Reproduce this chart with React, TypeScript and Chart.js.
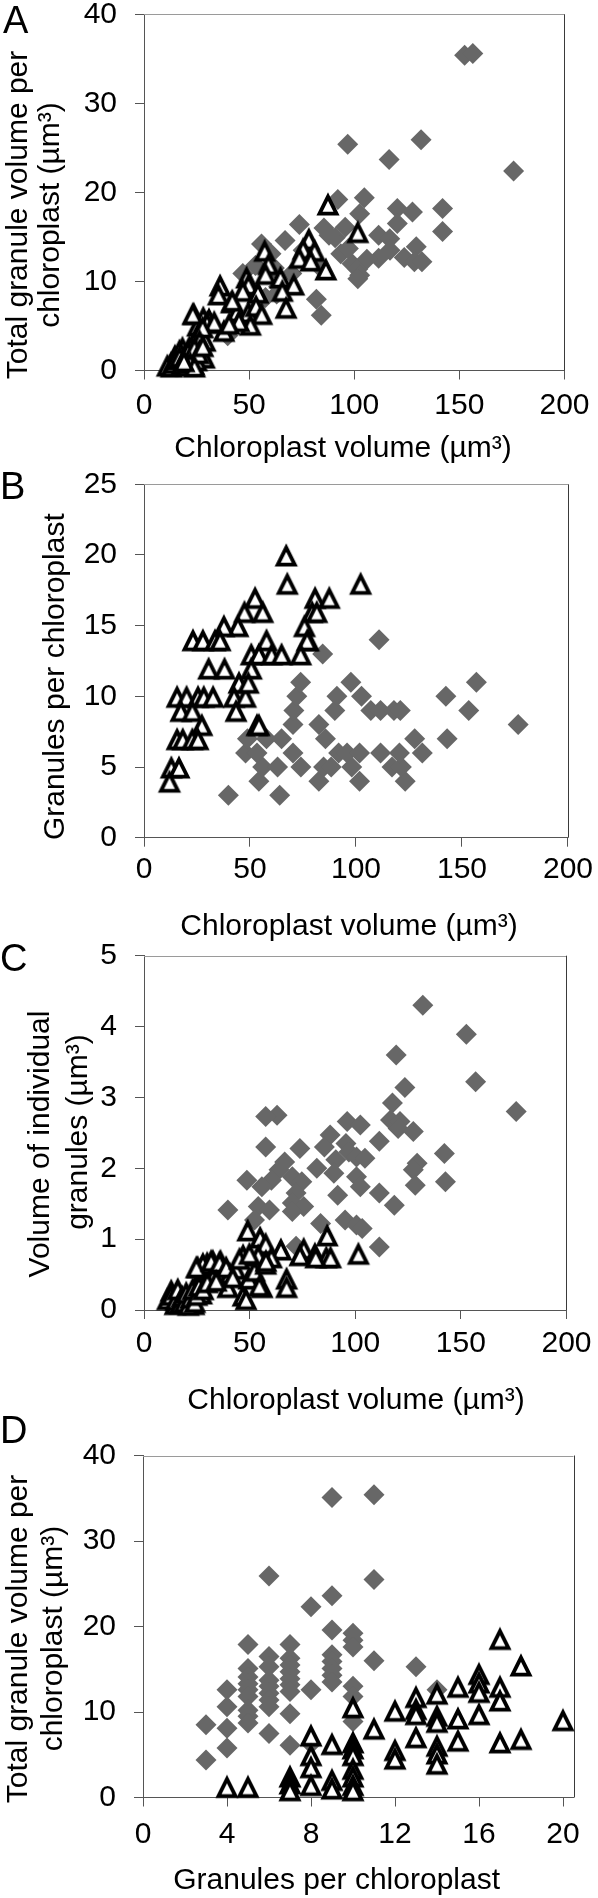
import React, { useEffect, useRef } from "react";
import { Chart, registerables } from "chart.js";

Chart.register(...registerables);

const FONT = '"Liberation Sans", Arial, Helvetica, sans-serif';

// ---------- tick labels ----------
const chloroplastVolumeTicks = [0, 50, 100, 150, 200];
const totalVolumeTicks = [0, 10, 20, 30, 40];
const granuleCountTicks = [0, 5, 10, 15, 20, 25];
const granuleVolumeTicks = [0, 1, 2, 3, 4, 5];
const granuleCountXTicks = [0, 4, 8, 12, 16, 20];

// ---------- Panel A: chloroplast volume vs total granule volume ----------
const aDiamonds: number[][] = [
  [152.5, 35.4], [156.4, 35.6], [175.8, 22.4], [96.9, 25.4], [131.8, 25.9], [116.6, 23.7],
  [104.8, 19.4], [92.2, 19.2], [102.6, 17.6], [120.5, 18.2], [127.7, 17.8], [142, 18.2],
  [142, 15.6], [120.5, 16.5], [85.6, 16.0], [95.7, 16.1], [73.9, 16.4], [67.1, 14.6],
  [90.9, 14.9], [111.6, 15.2], [116.9, 14.8], [129.5, 13.9], [111.6, 12.6], [123.8, 12.7],
  [128.6, 12.2], [132.2, 12.2], [99, 12.0], [101.7, 11.4], [102.6, 10.7], [101.7, 10.3],
  [93.6, 13.1], [97.2, 13.7], [82.9, 11.8], [82, 8.0], [84.3, 6.2], [60.4, 13.1],
  [55.9, 14.2], [70.3, 10.9], [64, 9.4], [63.1, 8.6], [57.8, 8.2], [50.6, 9.0],
  [47, 10.9], [39.8, 3.9], [75.7, 13.5], [78, 12.6], [88, 15.2], [106, 12.5],
  [117, 13.5], [62, 11.5], [53, 11.8],
];
const aTriangles: number[][] = [
  [87.5, 18.7], [101.7, 15.6], [78.4, 14.8], [75.7, 13.7], [81.1, 13.5], [73.9, 12.7],
  [79.3, 12.4], [86.5, 11.4], [57.4, 13.5], [59.2, 12], [57.8, 10.9], [64.9, 10.5],
  [71.2, 9.7], [65.8, 9], [67.6, 7.1], [48.8, 10.5], [49.7, 9.7], [47, 9],
  [54.2, 8.8], [36.2, 9.6], [35.4, 8.6], [41.6, 7.7], [44.3, 6.7], [49.7, 6.6],
  [53.3, 7.3], [56, 6.4], [50.6, 5.2], [45.2, 5.6], [38, 4.5], [23.7, 6.4],
  [28.2, 6], [30.9, 5.8], [30, 5.4], [25.5, 5.1], [25.5, 4.1], [29.1, 3.4],
  [22.8, 2.6], [27.3, 1.9], [18.3, 2.6], [14.7, 1.7], [12.9, 0.9], [11.1, 0.6],
  [16.5, 0.75], [21, 0.9], [23.7, 0.75], [15.6, 1.1], [19.2, 1.5],
  [23.2, 6.4], [33.4, 5.5], [40.5, 5.3], [42, 7.9], [27.9, 4.9], [26.4, 3.4],
  [26.4, 2.3], [21.6, 2.7], [28.7, 1.5], [16.9, 2.3], [13, 0.5], [14, 0.9],
  [15, 1.3], [17, 1.6], [18, 0.8], [20, 1.8], [21, 2.2], [22, 1.4], [24, 2.6],
  [25, 1.2], [26, 2.0], [28, 2.8], [20, 0.6], [22, 0.9], [24, 0.5], [19, 1.1],
];

// ---------- Panel B: chloroplast volume vs granules per chloroplast ----------
const bDiamonds: number[][] = [
  [39.8, 3], [64, 3], [54.2, 4], [82.5, 4], [101.7, 4], [123.2, 4], [56, 5], [63, 5],
  [74, 5], [84.7, 5], [88.3, 5], [98, 5], [117, 5], [121.4, 5], [47.9, 6], [53.3, 6],
  [70.3, 6], [91.8, 6], [95.8, 6], [101.7, 6], [111.6, 6], [120.5, 6], [131.3, 6],
  [48.8, 7], [57.8, 7], [64.9, 7], [85.6, 7], [127.7, 7], [143, 7], [70.3, 8],
  [82.5, 8], [176.5, 8], [70.7, 9], [90, 9], [107, 9], [111.6, 9], [117.9, 9],
  [120.9, 9], [153.2, 9], [72.1, 10], [91, 10], [102.6, 10], [142.4, 10], [73.9, 11],
  [97.6, 11], [156.8, 11], [84.3, 13], [110.9, 14],
];
const bTriangles: number[][] = [
  [67.1, 20], [67.6, 18], [102.2, 18], [52.4, 17], [80.7, 17], [87.4, 17], [79.3, 16],
  [81.5, 16], [56, 16], [47.4, 16], [44.3, 15], [37.7, 15], [75.7, 15], [77.5, 14],
  [57.8, 14], [23.1, 14], [27.8, 14], [33.5, 14], [35.9, 14], [77, 14], [50.6, 13],
  [54.2, 13], [60.2, 13], [64.9, 13], [73.9, 13], [30.5, 12], [38, 12], [50.6, 12],
  [44.8, 11], [15.6, 10], [20.1, 10], [25.5, 10], [28.2, 10], [32.6, 10], [42.5, 10],
  [47.9, 10], [49.2, 11], [43.4, 9], [17.4, 9], [22.8, 9], [27.3, 8], [53.3, 8],
  [54.2, 8], [15.6, 7], [18.3, 7], [22.8, 7], [25.5, 7], [12.9, 5], [16.5, 5], [12, 4],
];

// ---------- Panel C: chloroplast volume vs volume of individual granules ----------
const cDiamonds: number[][] = [
  [132, 4.3], [152.6, 3.89], [157, 3.22], [176.2, 2.8], [119.4, 3.6], [123.5, 3.14],
  [117.6, 2.92], [116.7, 2.68], [121.2, 2.66], [120.3, 2.56], [127.5, 2.52], [111.4, 2.38],
  [142.2, 2.21], [129.3, 2.07], [127.5, 1.98], [128.4, 1.76], [142.7, 1.81], [118.5, 1.48],
  [111.4, 1.65], [111.4, 0.89], [63, 2.75], [57.6, 2.73], [57.6, 2.3], [96.2, 2.66],
  [102.4, 2.61], [88.1, 2.47], [85.4, 2.3], [95.6, 2.35], [97, 2.23], [100.6, 2.16],
  [104.6, 2.14], [73.8, 2.28], [90.8, 2.12], [66.6, 2.09], [81.8, 2.0], [89.9, 1.93],
  [100.6, 1.88], [102.4, 1.74], [70.2, 1.88], [63.9, 1.98], [60.3, 1.83], [48.7, 1.83],
  [55.8, 1.74], [74.7, 1.81], [72, 1.65], [91.7, 1.62], [70.2, 1.51], [75.6, 1.46],
  [54.1, 1.46], [59.4, 1.41], [39.7, 1.41], [70.2, 1.39], [95.2, 1.27], [100.6, 1.2],
  [103.3, 1.15], [83.6, 1.22], [52.3, 1.27], [72, 0.9],
];
const cTriangles: number[][] = [
  [49.1, 1.13], [86.7, 1.06], [55, 1.03], [57.6, 0.94], [64.8, 0.86], [75.6, 0.87],
  [80.9, 0.8], [101.5, 0.8], [86.3, 0.75], [73.8, 0.78], [60.3, 0.75], [54.1, 0.78],
  [46.9, 0.78], [32.6, 0.7], [36.2, 0.7], [29.9, 0.67], [25.4, 0.61], [43.3, 0.59],
  [67.5, 0.45], [67.5, 0.33], [55.9, 0.33], [46.9, 0.21], [39.7, 0.33], [32.6, 0.47],
  [29, 0.42], [24.5, 0.35], [12.9, 0.28], [16.5, 0.19], [20.1, 0.14], [23.6, 0.09],
  [14.7, 0.09], [11.1, 0.16], [27.2, 0.24], [38, 0.56], [40.6, 0.52], [49.6, 0.45],
  [52.3, 0.56], [57.6, 0.66],
  [13, 0.22], [15, 0.15], [16, 0.3], [17, 0.1], [18, 0.2], [19, 0.12], [20, 0.25],
  [21, 0.08], [22, 0.18], [23, 0.3], [24, 0.12], [25, 0.22], [26, 0.35], [28, 0.3],
  [30, 0.4], [27.9, 0.66], [24.8, 0.61], [31.8, 0.7], [35.8, 0.68], [38.9, 0.61],
  [45.2, 0.73], [49.9, 0.8], [57.7, 0.7], [42, 0.47], [34.2, 0.42], [48.3, 0.16],
  [54.6, 0.35], [88.3, 0.75], [81.3, 0.75],
];

// ---------- Panel D: granules per chloroplast vs total granule volume ----------
const dDiamonds: number[][] = [
  [11, 35.4], [9, 35.1], [6, 25.9], [11, 25.5], [9, 23.6], [8, 22.3], [9, 19.6], [10, 19.2],
  [10, 18.4], [10, 17.6], [5, 17.9], [7, 17.9], [11, 16.0], [9, 16.7], [9, 15.9], [6, 16.5],
  [6, 15.3], [13, 15.3], [7, 16.3], [7, 15.5], [7, 14.7], [7, 13.9], [7, 13.2], [7, 12.4],
  [5, 15.1], [5, 14.1], [5, 13.3], [5, 12.6], [5, 11.8], [5, 10.2], [5, 9.5], [5, 8.7],
  [6, 13.7], [6, 13.0], [6, 12.2], [6, 11.4], [6, 10.6], [6, 7.5], [4, 12.6], [4, 10.6],
  [4, 8.1], [4, 5.8], [3, 8.5], [3, 4.4], [8, 12.6], [9, 15.1], [9, 14.3], [9, 13.5],
  [10, 13.0], [10, 11.8], [10, 8.9], [7, 9.8], [7, 6.1], [8, 6.3], [14, 12.6],
];
const dTriangles: number[][] = [
  [17, 18.6], [18, 15.5], [16, 14.5], [16, 13.5], [15, 13.0], [17, 13.0], [14, 12.2],
  [16, 12.4], [13, 11.8], [17, 11.4], [10, 10.6], [12, 10.2], [13, 10.4], [16, 9.8],
  [13, 9.8], [14, 9.6], [15, 9.3], [14, 8.9], [20, 9.1], [11, 8.1], [13, 7.1], [8, 7.3],
  [9, 6.3], [10, 6.5], [15, 6.7], [18, 6.9], [17, 6.5], [14, 6.1], [14, 5.2], [12, 5.6],
  [12, 4.6], [14, 4.0], [8, 5.0], [10, 5.8], [10, 5.0], [8, 3.6], [10, 3.4], [10, 2.5],
  [7, 2.5], [7, 1.7], [7, 0.9], [8, 1.5], [9, 2.1], [9, 1.1], [10, 1.5], [10, 0.9],
  [4, 1.3], [5, 1.3],
];

// ---------- layout ----------
const W = 598;
const H = 1898;
const PAD_TOP = 45;
const X_AXIS_H = 110;
const Y_AXIS_W = 60;

type TextItem = { text: string; x: number; y: number };
type PanelCfg = {
  letter: TextItem;
  plot: { left: number; right: number; top: number; bottom: number };
  xRange: [number, number];
  yRange: [number, number];
  xTicks: number[];
  yTicks: number[];
  xTickPad: number;
  xTitle: TextItem;
  yTitle: TextItem[];
  diamonds: number[][];
  triangles: number[][];
};

const panels: PanelCfg[] = [
  {
    letter: { text: "A", x: 3, y: 33 },
    plot: { left: 144, right: 569, top: 14.3, bottom: 370.5 },
    xRange: [0, 200],
    yRange: [0, 40],
    xTicks: chloroplastVolumeTicks,
    yTicks: totalVolumeTicks,
    xTickPad: 8.5,
    xTitle: { text: "Chloroplast volume (µm³)", x: 343, y: 457 },
    yTitle: [
      { text: "Total granule volume per", x: 27, y: 215 },
      { text: "chloroplast (µm³)", x: 58.6, y: 215 },
    ],
    diamonds: aDiamonds,
    triangles: aTriangles,
  },
  {
    letter: { text: "B", x: 0, y: 499.3 },
    plot: { left: 144, right: 569, top: 484.3, bottom: 837.7 },
    xRange: [0, 200],
    yRange: [0, 25],
    xTicks: chloroplastVolumeTicks,
    yTicks: granuleCountTicks,
    xTickPad: 5,
    xTitle: { text: "Chloroplast volume (µm³)", x: 349, y: 935 },
    yTitle: [{ text: "Granules per chloroplast", x: 64, y: 676.7 }],
    diamonds: bDiamonds,
    triangles: bTriangles,
  },
  {
    letter: { text: "C", x: 0, y: 971 },
    plot: { left: 144, right: 569, top: 955.7, bottom: 1310 },
    xRange: [0, 200],
    yRange: [0, 5],
    xTicks: chloroplastVolumeTicks,
    yTicks: granuleVolumeTicks,
    xTickPad: 6.5,
    xTitle: { text: "Chloroplast volume (µm³)", x: 356, y: 1408.7 },
    yTitle: [
      { text: "Volume of individual", x: 48.6, y: 1144 },
      { text: "granules (µm³)", x: 87, y: 1132 },
    ],
    diamonds: cDiamonds,
    triangles: cTriangles,
  },
  {
    letter: { text: "D", x: 0, y: 1443 },
    plot: { left: 143, right: 573.5, top: 1455.5, bottom: 1797.5 },
    xRange: [0, 20.5],
    yRange: [0, 40],
    xTicks: granuleCountXTicks,
    yTicks: totalVolumeTicks,
    xTickPad: 10.5,
    xTitle: { text: "Granules per chloroplast", x: 336.6, y: 1889 },
    yTitle: [
      { text: "Total granule volume per", x: 27, y: 1639 },
      { text: "chloroplast (µm³)", x: 62, y: 1638.5 },
    ],
    diamonds: dDiamonds,
    triangles: dTriangles,
  },
];

// open triangle marker (Excel style: as tall as it is wide, thick black outline)
function makeTriangleMarker(): HTMLCanvasElement {
  const c = document.createElement("canvas");
  c.width = 28;
  c.height = 28;
  const g = c.getContext("2d")!;
  const cx = 14;
  const cy = 14;
  g.beginPath();
  g.moveTo(cx, cy - 7.4);
  g.lineTo(cx + 8.5, cy + 9.6);
  g.lineTo(cx - 8.5, cy + 9.6);
  g.closePath();
  g.fillStyle = "#ffffff";
  g.fill();
  g.lineWidth = 3.8;
  g.lineJoin = "miter";
  g.miterLimit = 10;
  g.strokeStyle = "#000000";
  g.stroke();
  return c;
}

function PanelChart({ cfg }: { cfg: PanelCfg }) {
  const ref = useRef<HTMLCanvasElement | null>(null);
  const canvasTop = Math.floor(cfg.plot.top) - PAD_TOP;
  const canvasH = Math.ceil(cfg.plot.bottom - canvasTop) + X_AXIS_H;

  useEffect(() => {
    const canvas = ref.current;
    if (!canvas) return;
    const padTop = cfg.plot.top - canvasTop;
    const padBottom = canvasH - X_AXIS_H - (cfg.plot.bottom - canvasTop);
    const triangleMarker = makeTriangleMarker();

    const framePlugin = {
      id: "frame",
      beforeDatasetsDraw(chart: any) {
        const { ctx, chartArea } = chart;
        ctx.save();
        ctx.lineWidth = 1;
        ctx.strokeStyle = "#9a9a9a";
        ctx.beginPath();
        ctx.moveTo(chartArea.left, Math.round(chartArea.top) + 0.5);
        ctx.lineTo(chartArea.right, Math.round(chartArea.top) + 0.5);
        ctx.stroke();
        ctx.strokeStyle = "#3a3a3a";
        ctx.beginPath();
        ctx.moveTo(Math.round(chartArea.right) + 0.5, chartArea.top);
        ctx.lineTo(Math.round(chartArea.right) + 0.5, chartArea.bottom);
        ctx.stroke();
        ctx.restore();
      },
    };

    const textPlugin = {
      id: "panelText",
      afterDraw(chart: any) {
        const ctx = chart.ctx as CanvasRenderingContext2D;
        ctx.save();
        ctx.fillStyle = "#000";
        ctx.textBaseline = "alphabetic";
        ctx.textAlign = "left";
        ctx.font = `38px ${FONT}`;
        ctx.fillText(cfg.letter.text, cfg.letter.x, cfg.letter.y - canvasTop);
        ctx.font = `30px ${FONT}`;
        ctx.textAlign = "center";
        ctx.fillText(cfg.xTitle.text, cfg.xTitle.x, cfg.xTitle.y - canvasTop);
        for (const line of cfg.yTitle) {
          ctx.save();
          ctx.translate(line.x, line.y - canvasTop);
          ctx.rotate(-Math.PI / 2);
          ctx.fillText(line.text, 0, 0);
          ctx.restore();
        }
        ctx.restore();
      },
    };

    const tickFont = { family: FONT, size: 30 };

    const chart = new Chart(canvas, {
      type: "scatter",
      data: {
        datasets: [
          {
            label: "triangles",
            data: cfg.triangles.map(([x, y]) => ({ x, y })),
            pointStyle: triangleMarker,
            pointRadius: 11,
            pointHoverRadius: 11,
            clip: false,
          } as any,
          {
            label: "diamonds",
            data: cfg.diamonds.map(([x, y]) => ({ x, y })),
            pointStyle: "rectRot",
            pointRadius: 10.5,
            pointHoverRadius: 10.5,
            pointBackgroundColor: "#676767",
            pointBorderColor: "#676767",
            pointBorderWidth: 0,
            clip: false,
          } as any,
        ],
      },
      options: {
        animation: false,
        responsive: false,
        maintainAspectRatio: false,
        devicePixelRatio: 1,
        events: [],
        layout: {
          padding: {
            left: cfg.plot.left - Y_AXIS_W,
            right: W - cfg.plot.right,
            top: padTop,
            bottom: padBottom,
          },
        },
        plugins: {
          legend: { display: false },
          tooltip: { enabled: false },
        },
        scales: {
          x: {
            type: "linear",
            min: cfg.xRange[0],
            max: cfg.xRange[1],
            afterBuildTicks: (scale: any) => {
              scale.ticks = cfg.xTicks.map((v) => ({ value: v }));
            },
            afterFit: (scale: any) => {
              scale.height = X_AXIS_H;
            },
            grid: {
              drawOnChartArea: false,
              drawTicks: true,
              tickLength: 9,
              color: "#555555",
              lineWidth: 1,
            },
            border: { display: true, color: "#555555", width: 1 },
            ticks: {
              font: tickFont,
              color: "#000000",
              padding: cfg.xTickPad,
              maxRotation: 0,
              autoSkip: false,
            },
          },
          y: {
            type: "linear",
            min: cfg.yRange[0],
            max: cfg.yRange[1],
            afterBuildTicks: (scale: any) => {
              scale.ticks = cfg.yTicks.map((v) => ({ value: v }));
            },
            afterFit: (scale: any) => {
              scale.width = Y_AXIS_W;
            },
            grid: {
              drawOnChartArea: false,
              drawTicks: true,
              tickLength: 9,
              color: "#555555",
              lineWidth: 1,
            },
            border: { display: true, color: "#555555", width: 1 },
            ticks: {
              font: tickFont,
              color: "#000000",
              padding: 18,
              autoSkip: false,
            },
          },
        },
      } as any,
      plugins: [framePlugin, textPlugin],
    });
    return () => chart.destroy();
  }, [cfg, canvasTop, canvasH]);

  return (
    <canvas
      ref={ref}
      width={W}
      height={canvasH}
      style={{ position: "absolute", left: 0, top: canvasTop, width: W, height: canvasH }}
    />
  );
}

export default function App() {
  return (
    <div
      style={{
        position: "absolute",
        left: 0,
        top: 0,
        width: W,
        height: H,
        overflow: "hidden",
        background: "#ffffff",
      }}
    >
      {panels.map((p) => (
        <PanelChart key={p.letter.text} cfg={p} />
      ))}
    </div>
  );
}
